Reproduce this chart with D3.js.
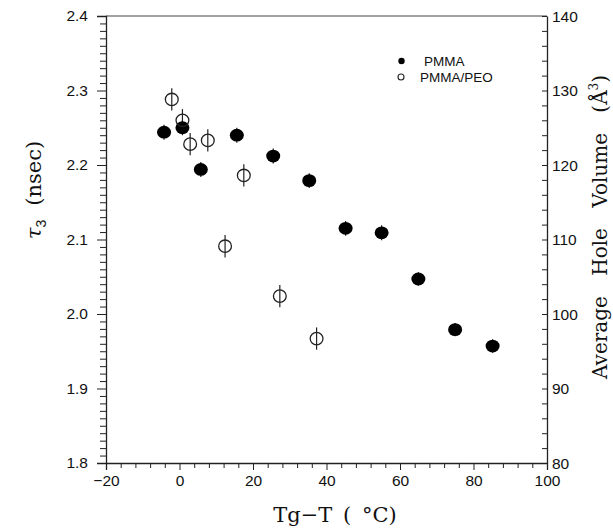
<!DOCTYPE html>
<html>
<head>
<meta charset="utf-8">
<script src="https://cdn.jsdelivr.net/npm/d3@7"></script>
<style>
  html, body { margin: 0; padding: 0; background: #fff; }
  svg { display: block; }
</style>
</head>
<body>
<script>
// ---- data ----
const pmmaX = [-4.2, 0.8, 5.8, 15.6, 25.5, 35.3, 45.2, 55.0, 65.0, 75.0, 85.2];
const pmmaY = [2.244, 2.250, 2.194, 2.240, 2.212, 2.179, 2.115, 2.109, 2.047, 1.979, 1.957];
const pmmaErr = [0.010, 0.010, 0.010, 0.010, 0.010, 0.010, 0.010, 0.010, 0.009, 0.009, 0.009];
const peoX = [-2.1, 0.8, 2.9, 7.7, 12.4, 17.5, 27.3, 37.3];
const peoY = [2.288, 2.260, 2.228, 2.233, 2.091, 2.186, 2.024, 1.967];
const peoErr = [0.015, 0.015, 0.015, 0.015, 0.015, 0.015, 0.015, 0.015];
const xTicks = [-20, 0, 20, 40, 60, 80, 100];
const yTicks = [1.8, 1.9, 2.0, 2.1, 2.2, 2.3, 2.4];
const y2Ticks = [80, 90, 100, 110, 120, 130, 140];
const seriesNames = ["PMMA", "PMMA/PEO"];

const W = 613, H = 531;
const L = 106, R = 547, T = 16, B = 463;

const svg = d3.select("body").append("svg").attr("width", W).attr("height", H);

const x = d3.scaleLinear().domain([-20, 100]).range([L, R]);
const y = d3.scaleLinear().domain([1.8, 2.4]).range([B, T]);
const y2 = d3.scaleLinear().domain([80, 140]).range([B, T]);

const ink = "#222";
const tickFont = "'Liberation Sans', Arial, sans-serif";
const serif = "'DejaVu Serif', 'Liberation Serif', serif";

// top border
svg.append("line").attr("x1", L).attr("x2", R).attr("y1", T).attr("y2", T)
  .attr("stroke", "#444").attr("stroke-width", 1);

// bottom axis
const xAxis = d3.axisBottom(x).tickValues(xTicks).tickSize(7).tickPadding(5)
  .tickFormat(d => d < 0 ? "\u2212" + Math.abs(d) : d);
const gx = svg.append("g").attr("transform", `translate(0,${B})`).call(xAxis);
const gxm = svg.append("g").attr("transform", `translate(0,${B})`)
  .call(d3.axisBottom(x).tickValues(d3.range(-20, 100.01, 4).filter(v => v % 20 !== 0)).tickSize(5).tickFormat(""));
gxm.select(".domain").remove();

// left axis
const yAxis = d3.axisLeft(y).tickValues(yTicks).tickSize(9).tickPadding(9).tickFormat(d3.format(".1f"));
const gy = svg.append("g").attr("transform", `translate(${L},0)`).call(yAxis);
const gym = svg.append("g").attr("transform", `translate(${L},0)`)
  .call(d3.axisLeft(y).tickValues(d3.range(1.8, 2.4001, 0.01).filter(v => Math.abs(Math.round(v * 10) - v * 10) > 1e-6)).tickSize(6).tickFormat(""));
gym.select(".domain").remove();

// right axis (ticks inward)
const y2Axis = d3.axisRight(y2).tickValues(y2Ticks).tickSizeInner(-5).tickSizeOuter(0).tickPadding(5);
const gy2 = svg.append("g").attr("transform", `translate(${R},0)`).call(y2Axis);
const gy2m = svg.append("g").attr("transform", `translate(${R},0)`)
  .call(d3.axisRight(y2).tickValues(d3.range(80, 140.01, 2).filter(v => v % 10 !== 0)).tickSizeInner(-5).tickSizeOuter(0).tickFormat(""));
gy2m.select(".domain").remove();

svg.selectAll(".domain").attr("stroke", ink).attr("stroke-width", 1.3);
svg.selectAll(".tick line").attr("stroke", ink).attr("stroke-width", 1);
svg.selectAll(".tick text").attr("fill", "#111").style("font-family", tickFont).style("font-size", "15.5px");
gy2.selectAll(".tick text").attr("dy", "0.35em");

// error bars
function errBars(xs, ys, es) {
  svg.append("g").selectAll("line").data(xs).join("line")
    .attr("x1", (d, i) => x(d)).attr("x2", (d, i) => x(d))
    .attr("y1", (d, i) => y(ys[i] + es[i])).attr("y2", (d, i) => y(ys[i] - es[i]))
    .attr("stroke", ink).attr("stroke-width", 1.2);
}
errBars(pmmaX, pmmaY, pmmaErr);
errBars(peoX, peoY, peoErr);

// PMMA filled
svg.append("g").selectAll("ellipse").data(pmmaX).join("ellipse")
  .attr("cx", d => x(d)).attr("cy", (d, i) => y(pmmaY[i]))
  .attr("rx", 7).attr("ry", 6.4).attr("fill", "#000");

// PMMA/PEO open
svg.append("g").selectAll("ellipse").data(peoX).join("ellipse")
  .attr("cx", d => x(d)).attr("cy", (d, i) => y(peoY[i]))
  .attr("rx", 6.4).attr("ry", 6.2).attr("fill", "none").attr("stroke", ink).attr("stroke-width", 1.3);

// legend
const lg = svg.append("g");
lg.append("circle").attr("cx", 401.5).attr("cy", 61).attr("r", 3.2).attr("fill", "#000");
lg.append("circle").attr("cx", 401).attr("cy", 77).attr("r", 3).attr("fill", "none").attr("stroke", ink).attr("stroke-width", 1.1);
lg.append("text").attr("x", 424).attr("y", 66).text(seriesNames[0])
  .style("font-family", tickFont).style("font-size", "13.5px").attr("fill", "#111");
lg.append("text").attr("x", 420).attr("y", 82).text(seriesNames[1])
  .style("font-family", tickFont).style("font-size", "13.5px").attr("fill", "#111");

// left title
const lt = svg.append("text").attr("transform", "translate(41,190) rotate(-90)")
  .attr("text-anchor", "middle").style("font-family", serif).style("font-size", "21px").attr("fill", "#111");
lt.append("tspan").text("\u03C4").style("font-style", "italic");
lt.append("tspan").text("3").attr("dy", 5).style("font-size", "14px").style("font-family", tickFont);
lt.append("tspan").text("(nsec)").attr("dy", -5).attr("dx", 14);

// right title
const rt = svg.append("text").attr("transform", "translate(607,227) rotate(-90)")
  .attr("text-anchor", "middle").style("font-family", serif).style("font-size", "20px")
  .style("word-spacing", "14px").attr("fill", "#111");
rt.append("tspan").text("Average Hole Volume (\u00C5");
rt.append("tspan").text("3").attr("dy", -9).style("font-size", "12px");
rt.append("tspan").text(")").attr("dy", 9);

// bottom title
svg.append("text").attr("x", 335).attr("y", 522).attr("text-anchor", "middle")
  .style("font-family", serif).style("font-size", "21px").style("word-spacing", "4px").attr("fill", "#111")
  .text("Tg\u2212T ( \u00B0C)");
</script>
</body>
</html>
